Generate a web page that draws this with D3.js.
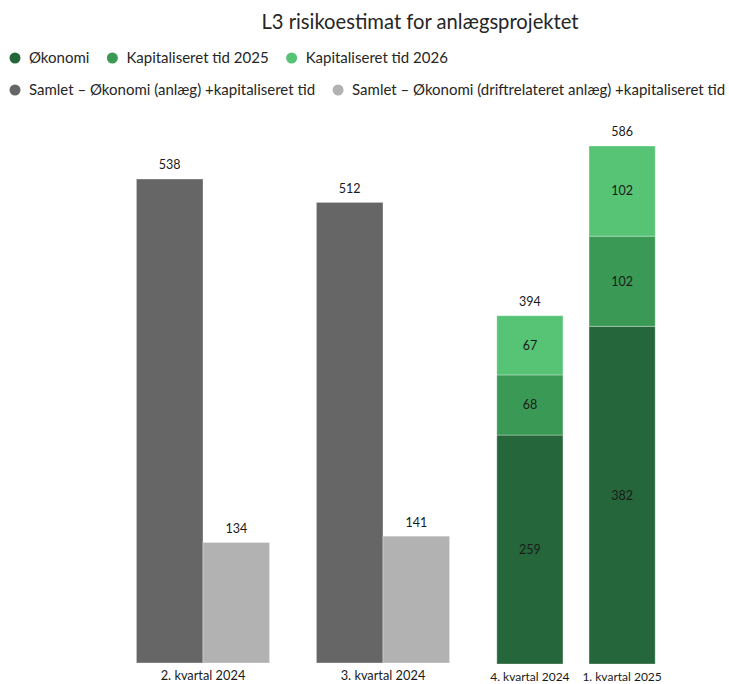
<!DOCTYPE html>
<html>
<head>
<meta charset="utf-8">
<script src="https://cdn.jsdelivr.net/npm/d3@7"></script>
<style>
	body { margin: 0; background: #fff; }
	svg { display: block; font-family: Lato, "Noto Sans", sans-serif; }
</style>
</head>
<body>
<div id="chart"></div>
<script>
// chart data
var title = 'L3 risikoestimat for anlægsprojektet';

// grey panel (total values)
var greyCategories = ['2. kvartal 2024', '3. kvartal 2024'];
var greySeries = ['Samlet – Økonomi (anlæg) +kapitaliseret tid',
	'Samlet – Økonomi (driftrelateret anlæg) +kapitaliseret tid'];
var anlaegValues = [538, 512];
var driftValues = [134, 141];

// green panel (stacked values)
var greenCategories = ['4. kvartal 2024', '1. kvartal 2025'];
var greenSeries = ['Økonomi', 'Kapitaliseret tid 2025', 'Kapitaliseret tid 2026'];
var oekonomiValues = [259, 382];
var kap2025Values = [68, 102];
var kap2026Values = [67, 102];
var greenTotals = [394, 586];

var greenColors = ['#25663a', '#3a9a55', '#56c375'];
var greyColors = ['#666666', '#b2b2b2'];

var width = 729, height = 684;

var svg = d3.select('#chart').append('svg')
	.attr('width', width)
	.attr('height', height);

// title
svg.append('text')
	.attr('x', 420)
	.attr('y', 29)
	.attr('text-anchor', 'middle')
	.attr('font-size', 20.2)
	.attr('fill', '#262626')
	.text(title);

// legend, two rows, items placed after each other
function legendRow(names, colors, y) {
	var x = 15;
	names.forEach(function (name, i) {
		svg.append('circle')
			.attr('cx', x)
			.attr('cy', y)
			.attr('r', 5.5)
			.attr('fill', colors[i]);
		var t = svg.append('text')
			.attr('x', x + 14)
			.attr('y', y)
			.attr('dy', '0.35em')
			.attr('font-size', 15)
			.attr('fill', '#262626')
			.text(name);
		x = x + 14 + t.node().getComputedTextLength() + 23;
	});
}
legendRow(greenSeries, greenColors, 58);
legendRow(greySeries, greyColors, 90);

// grey panel scales
var xGrey = d3.scaleBand()
	.domain(greyCategories)
	.range([113, 473])
	.paddingInner(0.26)
	.paddingOuter(0.13);
var xGreySub = d3.scaleBand()
	.domain(greySeries)
	.range([0, xGrey.bandwidth()]);
var yGrey = d3.scaleLinear()
	.domain([0, 538])
	.range([663, 179]);

// green panel scales
var xGreen = d3.scaleBand()
	.domain(greenCategories)
	.range([483, 669])
	.paddingInner(0.283)
	.paddingOuter(0.15);
var yGreen = d3.scaleLinear()
	.domain([0, 586])
	.range([664, 146]);

var labelColor = '#1a1a1a';
var labelSize = 12.5;

// grey bars, side by side
var greyData = [];
greyCategories.forEach(function (c, i) {
	greyData.push({cat: c, series: greySeries[0], value: anlaegValues[i], color: greyColors[0]});
	greyData.push({cat: c, series: greySeries[1], value: driftValues[i], color: greyColors[1]});
});

var gGrey = svg.append('g');
gGrey.selectAll('rect')
	.data(greyData)
	.enter().append('rect')
	.attr('x', function (d) { return xGrey(d.cat) + xGreySub(d.series); })
	.attr('y', function (d) { return yGrey(d.value); })
	.attr('width', xGreySub.bandwidth())
	.attr('height', function (d) { return yGrey(0) - yGrey(d.value); })
	.attr('fill', function (d) { return d.color; })
	.attr('stroke', 'rgba(255,255,255,0.35)')
	.attr('stroke-width', 1);

gGrey.selectAll('text')
	.data(greyData)
	.enter().append('text')
	.attr('x', function (d) { return xGrey(d.cat) + xGreySub(d.series) + xGreySub.bandwidth() / 2; })
	.attr('y', function (d) { return yGrey(d.value) - 14; })
	.attr('dy', '0.35em')
	.attr('text-anchor', 'middle')
	.attr('font-size', labelSize)
	.attr('fill', labelColor)
	.text(function (d) { return d.value; });

// green stacked bars
var stackRows = greenCategories.map(function (c, i) {
	var row = {cat: c};
	row[greenSeries[0]] = oekonomiValues[i];
	row[greenSeries[1]] = kap2025Values[i];
	row[greenSeries[2]] = kap2026Values[i];
	return row;
});
var stacked = d3.stack().keys(greenSeries)(stackRows);

var gGreen = svg.append('g');
var layers = gGreen.selectAll('g.layer')
	.data(stacked)
	.enter().append('g')
	.attr('class', 'layer')
	.attr('fill', function (d, i) { return greenColors[i]; });

layers.selectAll('rect')
	.data(function (d) { return d; })
	.enter().append('rect')
	.attr('x', function (d) { return xGreen(d.data.cat); })
	.attr('y', function (d) { return yGreen(d[1]); })
	.attr('width', xGreen.bandwidth())
	.attr('height', function (d) { return yGreen(d[0]) - yGreen(d[1]); })
	.attr('stroke', 'rgba(255,255,255,0.3)')
	.attr('stroke-width', 1);

// segment labels
layers.selectAll('text')
	.data(function (d) { return d; })
	.enter().append('text')
	.attr('x', function (d) { return xGreen(d.data.cat) + xGreen.bandwidth() / 2; })
	.attr('y', function (d) { return (yGreen(d[0]) + yGreen(d[1])) / 2; })
	.attr('dy', '0.35em')
	.attr('text-anchor', 'middle')
	.attr('font-size', labelSize)
	.attr('fill', labelColor)
	.text(function (d) { return d[1] - d[0]; });

// totals on top
gGreen.selectAll('text.total')
	.data(greenCategories)
	.enter().append('text')
	.attr('class', 'total')
	.attr('x', function (d) { return xGreen(d) + xGreen.bandwidth() / 2; })
	.attr('y', function (d, i) { return yGreen(greenTotals[i]) - 14; })
	.attr('dy', '0.35em')
	.attr('text-anchor', 'middle')
	.attr('font-size', labelSize)
	.attr('fill', labelColor)
	.text(function (d, i) { return greenTotals[i]; });

// category labels
svg.append('g').selectAll('text')
	.data(greyCategories)
	.enter().append('text')
	.attr('x', function (d) { return xGrey(d) + xGrey.bandwidth() / 2; })
	.attr('y', 676)
	.attr('dy', '0.35em')
	.attr('text-anchor', 'middle')
	.attr('font-size', 12.8)
	.attr('fill', labelColor)
	.text(function (d) { return d; });

svg.append('g').selectAll('text')
	.data(greenCategories)
	.enter().append('text')
	.attr('x', function (d) { return xGreen(d) + xGreen.bandwidth() / 2; })
	.attr('y', 676.5)
	.attr('dy', '0.35em')
	.attr('text-anchor', 'middle')
	.attr('font-size', 12)
	.attr('fill', labelColor)
	.text(function (d) { return d; });
</script>
</body>
</html>
